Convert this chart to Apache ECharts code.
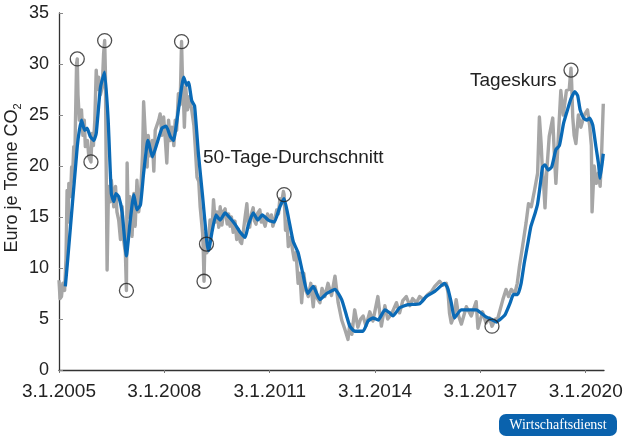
<!DOCTYPE html>
<html>
<head>
<meta charset="utf-8">
<script src="https://cdn.jsdelivr.net/npm/echarts@6/dist/echarts.min.js"></script>
<style>
  html, body {margin: 0; padding: 0; background: #fff;}
  #chart {width: 629px; height: 446px;}
</style>
</head>
<body>
<div id="chart"></div>
<script>
// x values are decimal years, shifted so that 3.1.2005 is 0 on the axis
const START_YEAR = 2005;
const yearTicks = [2005, 2008, 2011, 2014, 2017, 2020];

// Tageskurs (daily price)
const dailyPrice = [
  [2005.00, 8.8], [2005.03, 7.0], [2005.07, 7.2], [2005.11, 8.5], [2005.16, 7.8],
  [2005.20, 11.0], [2005.23, 17.6], [2005.26, 14.5], [2005.28, 18.3], [2005.33, 17.0],
  [2005.36, 19.9], [2005.38, 18.5], [2005.42, 21.9], [2005.45, 20.5], [2005.47, 24.5],
  [2005.50, 30.0], [2005.52, 30.5], [2005.54, 27.0], [2005.58, 24.5], [2005.64, 25.5],
  [2005.68, 23.0], [2005.72, 24.5], [2005.75, 21.9], [2005.81, 22.5], [2005.85, 20.9],
  [2005.91, 20.4], [2005.94, 23.2], [2005.98, 22.0], [2006.02, 24.5], [2006.06, 29.4],
  [2006.09, 27.5], [2006.13, 28.7], [2006.18, 27.0], [2006.23, 27.7], [2006.27, 31.0],
  [2006.30, 32.3], [2006.32, 29.4], [2006.34, 21.2], [2006.37, 9.8], [2006.39, 14.0],
  [2006.41, 18.0], [2006.46, 16.5], [2006.49, 18.6], [2006.56, 16.0], [2006.61, 18.0],
  [2006.65, 15.5], [2006.70, 14.7], [2006.75, 12.8], [2006.80, 16.0], [2006.83, 13.0],
  [2006.89, 11.5], [2006.92, 7.8], [2006.94, 20.3], [2006.97, 15.0], [2007.02, 17.0],
  [2007.08, 13.1], [2007.13, 17.3], [2007.17, 14.1], [2007.22, 18.6], [2007.27, 15.5],
  [2007.32, 17.0], [2007.38, 21.2], [2007.41, 26.3], [2007.46, 22.9], [2007.51, 19.9],
  [2007.54, 23.0], [2007.60, 21.0], [2007.66, 22.5], [2007.70, 19.5], [2007.74, 23.5],
  [2007.84, 24.5], [2007.88, 25.1], [2007.93, 23.0], [2007.98, 24.8], [2008.03, 22.5],
  [2008.07, 20.3], [2008.12, 24.5], [2008.17, 22.5], [2008.22, 23.8], [2008.27, 22.0],
  [2008.31, 24.5], [2008.35, 23.5], [2008.40, 27.1], [2008.45, 26.0], [2008.49, 32.2],
  [2008.51, 29.4], [2008.55, 26.0], [2008.57, 23.8], [2008.61, 27.7], [2008.66, 25.5],
  [2008.71, 26.8], [2008.78, 25.5], [2008.84, 24.0], [2008.88, 21.9], [2008.93, 18.9],
  [2008.98, 18.5], [2009.02, 16.0], [2009.09, 13.4], [2009.11, 11.5], [2009.13, 8.7],
  [2009.16, 13.4], [2009.21, 11.5], [2009.26, 12.5], [2009.30, 14.7], [2009.36, 13.8],
  [2009.40, 16.7], [2009.45, 14.5], [2009.50, 15.5], [2009.55, 14.0], [2009.59, 16.0],
  [2009.64, 14.2], [2009.69, 15.6], [2009.73, 15.8], [2009.79, 14.3], [2009.83, 15.3],
  [2009.87, 14.1], [2009.91, 15.0], [2009.96, 13.5], [2010.01, 14.6], [2010.06, 12.8],
  [2010.11, 13.8], [2010.16, 12.6], [2010.20, 12.4], [2010.25, 13.6], [2010.30, 15.0],
  [2010.35, 16.3], [2010.39, 14.2], [2010.43, 14.0], [2010.48, 15.3], [2010.53, 15.9],
  [2010.57, 14.6], [2010.61, 14.3], [2010.66, 15.4], [2010.72, 15.7], [2010.76, 14.5],
  [2010.80, 14.8], [2010.87, 14.1], [2010.94, 15.3], [2011.01, 14.6], [2011.05, 15.2],
  [2011.09, 14.1], [2011.15, 14.8], [2011.20, 15.7], [2011.25, 15.3], [2011.29, 16.8],
  [2011.34, 16.4], [2011.39, 17.5], [2011.41, 17.2], [2011.45, 13.7], [2011.49, 14.6],
  [2011.53, 12.1], [2011.60, 13.0], [2011.65, 11.8], [2011.70, 10.8], [2011.75, 11.5],
  [2011.81, 8.5], [2011.86, 9.5], [2011.91, 6.6], [2011.97, 9.5], [2012.03, 7.8],
  [2012.10, 7.2], [2012.17, 8.5], [2012.24, 6.2], [2012.29, 8.2], [2012.36, 7.0],
  [2012.43, 6.6], [2012.49, 8.0], [2012.57, 7.2], [2012.66, 8.5], [2012.76, 7.3],
  [2012.86, 9.2], [2012.95, 6.6], [2013.05, 4.9], [2013.14, 4.0], [2013.23, 3.0],
  [2013.28, 4.5], [2013.34, 3.5], [2013.42, 5.9], [2013.51, 4.2], [2013.59, 5.0],
  [2013.66, 5.3], [2013.74, 4.3], [2013.85, 5.7], [2013.94, 4.8], [2014.08, 7.2],
  [2014.18, 4.3], [2014.28, 6.3], [2014.36, 5.0], [2014.47, 5.5], [2014.61, 6.6],
  [2014.70, 5.6], [2014.79, 6.8], [2014.89, 7.2], [2014.99, 6.3], [2015.07, 7.0],
  [2015.18, 6.6], [2015.27, 7.2], [2015.38, 6.9], [2015.50, 7.4], [2015.61, 7.7],
  [2015.70, 8.2], [2015.84, 8.7], [2015.93, 8.3], [2016.03, 8.5], [2016.08, 7.5],
  [2016.12, 5.6], [2016.17, 4.6], [2016.24, 5.2], [2016.31, 6.9], [2016.38, 5.3],
  [2016.46, 4.5], [2016.60, 6.2], [2016.74, 5.3], [2016.88, 6.7], [2016.93, 4.1],
  [2017.06, 5.7], [2017.16, 4.6], [2017.26, 5.1], [2017.33, 4.3], [2017.43, 5.0],
  [2017.49, 5.0], [2017.64, 6.9], [2017.73, 7.9], [2017.80, 7.2], [2017.88, 7.9],
  [2017.98, 7.5], [2018.05, 8.5], [2018.11, 10.1], [2018.20, 12.1], [2018.30, 14.4],
  [2018.37, 16.3], [2018.45, 16.0], [2018.54, 17.6], [2018.63, 19.3], [2018.68, 24.8],
  [2018.73, 22.2], [2018.76, 20.0], [2018.80, 18.3], [2018.84, 15.9], [2018.89, 19.5],
  [2018.96, 22.9], [2019.06, 24.7], [2019.10, 21.6], [2019.15, 18.3], [2019.20, 21.5],
  [2019.29, 27.4], [2019.36, 25.0], [2019.45, 27.4], [2019.53, 27.5], [2019.58, 29.6],
  [2019.60, 28.0], [2019.63, 24.8], [2019.67, 23.0], [2019.72, 22.2], [2019.79, 25.0],
  [2019.86, 23.8], [2019.96, 25.0], [2020.05, 25.5], [2020.11, 24.0], [2020.16, 22.0],
  [2020.18, 15.5], [2020.24, 20.0], [2020.30, 18.3], [2020.36, 19.3], [2020.41, 18.0],
  [2020.45, 21.0], [2020.50, 26.1]
];

// 50-Tage-Durchschnitt (50-day moving average)
const movingAvg = [
  [2005.18, 8.2], [2005.24, 10.5], [2005.52, 21.9], [2005.58, 23.5], [2005.64, 24.5],
  [2005.73, 23.5], [2005.80, 23.7], [2005.89, 22.9], [2005.99, 22.5], [2006.06, 23.2],
  [2006.18, 27.7], [2006.30, 29.2], [2006.40, 24.5], [2006.49, 17.3], [2006.56, 16.5],
  [2006.62, 17.3], [2006.70, 17.0], [2006.80, 15.4], [2006.92, 11.2], [2007.03, 14.7],
  [2007.13, 17.2], [2007.22, 15.7], [2007.32, 16.2], [2007.41, 19.3], [2007.53, 22.5],
  [2007.56, 22.2], [2007.66, 20.9], [2007.79, 22.2], [2007.93, 23.7], [2008.05, 23.9],
  [2008.17, 22.9], [2008.26, 22.5], [2008.40, 25.5], [2008.55, 28.7], [2008.64, 27.9],
  [2008.69, 28.2], [2008.78, 26.4], [2008.86, 25.9], [2008.97, 21.2], [2009.09, 17.0],
  [2009.21, 12.6], [2009.26, 11.7], [2009.35, 13.4], [2009.47, 15.2], [2009.59, 14.7],
  [2009.73, 15.4], [2009.87, 14.9], [2010.01, 14.3], [2010.16, 13.5], [2010.30, 13.0],
  [2010.39, 14.2], [2010.53, 15.4], [2010.66, 14.7], [2010.79, 15.2], [2010.96, 14.7],
  [2011.13, 14.5], [2011.29, 16.0], [2011.41, 16.8], [2011.53, 15.0], [2011.67, 12.6],
  [2011.81, 11.5], [2011.94, 9.5], [2012.08, 7.5], [2012.24, 8.2], [2012.43, 6.9],
  [2012.62, 7.5], [2012.86, 7.9], [2013.05, 6.9], [2013.19, 5.3], [2013.28, 4.3],
  [2013.42, 3.8], [2013.66, 3.8], [2013.80, 4.8], [2013.94, 5.1], [2014.09, 4.9],
  [2014.28, 5.9], [2014.42, 5.6], [2014.51, 5.3], [2014.70, 6.1], [2014.94, 6.4],
  [2015.27, 6.5], [2015.46, 7.2], [2015.70, 7.7], [2015.98, 8.5], [2016.07, 8.0],
  [2016.17, 6.6], [2016.26, 5.1], [2016.45, 5.9], [2016.88, 5.9], [2017.16, 5.2],
  [2017.35, 4.9], [2017.46, 4.7], [2017.54, 4.9], [2017.70, 5.4], [2017.85, 6.6],
  [2017.94, 7.4], [2018.06, 7.4], [2018.16, 8.5], [2018.25, 10.5], [2018.35, 12.4],
  [2018.44, 14.1], [2018.56, 15.4], [2018.63, 16.3], [2018.71, 18.3], [2018.77, 19.9],
  [2018.84, 20.1], [2018.93, 19.6], [2019.03, 19.9], [2019.15, 21.6], [2019.25, 22.0],
  [2019.37, 24.2], [2019.48, 25.5], [2019.58, 26.6], [2019.69, 27.3], [2019.77, 26.9],
  [2019.84, 25.5], [2019.94, 24.7], [2020.03, 24.5], [2020.11, 24.7], [2020.20, 24.0],
  [2020.29, 21.9], [2020.36, 20.3], [2020.41, 18.8], [2020.50, 21.2]
];

// circled highs and lows
const markedPoints = [
  [2005.52, 30.5], [2005.91, 20.4], [2006.30, 32.3], [2006.92, 7.8], [2008.49, 32.2],
  [2009.13, 8.7], [2009.20, 12.35], [2011.41, 17.2], [2017.33, 4.3], [2019.58, 29.4]
];

const shift = (pts) => pts.map(([y, v]) => [y - START_YEAR, v]);

const FONT = "'Liberation Sans', Arial, Helvetica, sans-serif";
const chart = echarts.init(document.getElementById("chart"), null, {renderer: "canvas"});

chart.setOption({
  animation: false,
  backgroundColor: "#fff",
  grid: {left: 59, right: 25, top: 13, bottom: 76},
  xAxis: {
    type: "value",
    min: 0,
    max: 15.52,
    axisLine: {lineStyle: {color: "#333", width: 1.3}},
    axisTick: {
      show: true, length: 3, lineStyle: {color: "#777"},
      customValues: yearTicks.map(y => y - START_YEAR),
    },
    axisLabel: {
      customValues: yearTicks.map(y => y - START_YEAR),
      formatter: (v) => "3.1." + Math.round(v + START_YEAR),
      color: "#222", fontSize: 19, fontFamily: FONT, margin: 12,
    },
    splitLine: {show: false},
  },
  yAxis: {
    type: "value",
    min: 0,
    max: 35,
    interval: 5,
    axisLine: {show: true, lineStyle: {color: "#333", width: 1.3}},
    axisTick: {show: true, inside: true, length: 4, lineStyle: {color: "#888"}},
    axisLabel: {color: "#222", fontSize: 18, fontFamily: FONT, margin: 10},
    splitLine: {show: false},
  },
  series: [
    {
      name: "Tageskurs",
      type: "line",
      data: shift(dailyPrice),
      showSymbol: false,
      lineStyle: {color: "#a6a6a6", width: 3.4, join: "round"},
      z: 1,
    },
    {
      name: "50-Tage-Durchschnitt",
      type: "line",
      data: shift(movingAvg),
      showSymbol: false,
      smooth: 0.15,
      lineStyle: {color: "#0a6ab6", width: 3.3, join: "round"},
      z: 2,
    },
    {
      type: "scatter",
      data: shift(markedPoints),
      symbol: "circle",
      symbolSize: 14,
      itemStyle: {color: "rgba(0,0,0,0)", borderColor: "#222", borderWidth: 1.3},
      z: 3,
    },
  ],
  graphic: [
    {
      type: "text",
      x: 12, y: 178, rotation: Math.PI / 2,
      style: {
        text: "{a|Euro je Tonne CO}{s|2}",
        align: "center", verticalAlign: "middle",
        rich: {
          a: {fontSize: 18, fontFamily: FONT, fill: "#222", lineHeight: 22},
          s: {fontSize: 11, fontFamily: FONT, fill: "#222", lineHeight: 11, verticalAlign: "bottom"},
        },
      },
    },
    {
      type: "text", x: 470, y: 81,
      style: {text: "Tageskurs", fontSize: 19, fontFamily: FONT, fill: "#222", align: "left", verticalAlign: "middle"},
    },
    {
      type: "text", x: 203, y: 157.5,
      style: {text: "50-Tage-Durchschnitt", fontSize: 19, fontFamily: FONT, fill: "#222", align: "left", verticalAlign: "middle"},
    },
    {
      type: "rect",
      shape: {x: 499, y: 414, width: 118, height: 22, r: 7},
      style: {fill: "#0a62ad"},
    },
    {
      type: "text", x: 558, y: 425,
      style: {
        text: "Wirtschaftsdienst", fontSize: 14,
        fontFamily: "'Liberation Serif', 'Times New Roman', serif",
        fill: "#fff", align: "center", verticalAlign: "middle",
      },
    },
  ],
});
</script>
</body>
</html>
